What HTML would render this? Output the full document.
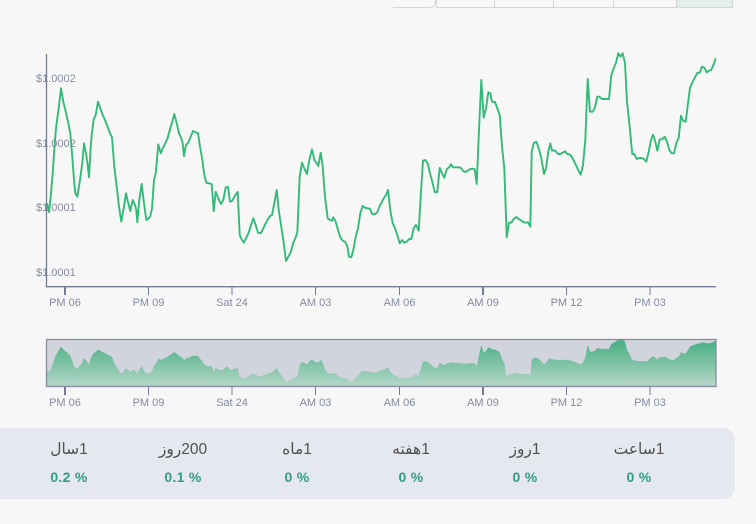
<!DOCTYPE html>
<html lang="fa">
<head>
<meta charset="utf-8">
<title>Price chart</title>
<style>
html,body{margin:0;padding:0;background:#f7f7f7;}
body{width:756px;height:524px;position:relative;overflow:hidden;font-family:"Liberation Sans","DejaVu Sans",sans-serif;}
.tab{position:absolute;top:-2px;height:9.5px;box-sizing:border-box;border:1px solid #d6d6d6;border-top:none;background:#f8f8f8;}
#chart{position:absolute;left:0;top:0;}
#stats{position:absolute;left:0;top:428px;width:735px;height:71px;background:#e5e8ee;border-radius:0 12px 12px 0;}
.stat-label{position:absolute;top:12px;width:114px;text-align:center;font-size:15.5px;line-height:20px;color:#505050;white-space:nowrap;}
.stat-value{position:absolute;top:40px;width:114px;text-align:center;font-size:14px;line-height:18px;font-weight:bold;color:#2f9e84;letter-spacing:.3px;white-space:nowrap;}
</style>
</head>
<body>
<div class="tab" style="left:393px;width:43px;border-radius:0 0 6px 0;border-left:none"></div>
<div class="tab" style="left:436px;width:59px;"></div>
<div class="tab" style="left:494px;width:60px;"></div>
<div class="tab" style="left:553px;width:61px;"></div>
<div class="tab" style="left:613px;width:64px;"></div>
<div class="tab" style="left:676px;width:57px;background:#e3efeb;border-radius:0 0 0 4px"></div>

<svg id="chart" width="756" height="524" viewBox="0 0 756 524" xmlns="http://www.w3.org/2000/svg">
<defs>
<linearGradient id="navFill" x1="0" y1="0" x2="0" y2="1">
<stop offset="0" stop-color="#45ae80"/>
<stop offset="1" stop-color="#b6d6c9"/>
</linearGradient>
</defs>
</svg>

<div id="stats">
<div class="stat-label" dir="rtl" style="left:12px">1سال</div>
<div class="stat-value" style="left:12px">0.2 %</div>
<div class="stat-label" dir="rtl" style="left:126px">200روز</div>
<div class="stat-value" style="left:126px">0.1 %</div>
<div class="stat-label" dir="rtl" style="left:240px">1ماه</div>
<div class="stat-value" style="left:240px">0 %</div>
<div class="stat-label" dir="rtl" style="left:354px">1هفته</div>
<div class="stat-value" style="left:354px">0 %</div>
<div class="stat-label" dir="rtl" style="left:468px">1روز</div>
<div class="stat-value" style="left:468px">0 %</div>
<div class="stat-label" dir="rtl" style="left:582px">1ساعت</div>
<div class="stat-value" style="left:582px">0 %</div>
</div>

<script>
// Sample time (steps of about 2.15 minutes from chart start)
const sampleSteps = [1,3,4.7,6.7,8.3,10,12.7,15,17.3,19.7,22,24.3,26,28,29.3,31.3,34,36.3,38,40,41.7,43,44.7,45.7,47.7,49.7,52,54.3,56.7,59,61.3,63.7,66,68.3,70.7,73,75.3,77.7,80,82.3,84.3,86.7,89,90.3,91.3,93.3,95.7,98,100.3,102.7,104.3,106,108,109.7,112.3,114.7,116.7,119.3,121.7,124,126.3,128.3,130.7,133,135.3,136.7,138,140,142.3,144.7,147,149.7,152,154,156.3,158,160.3,163,165.7,167.7,169.7,172.3,175,177.3,179.7,182,184,186.3,188.7,191.7,193.7,195.7,197.7,200,202.7,205,207.3,209.7,212,214.7,217.3,219.7,222,224,226,228.3,230.7,232.7,235,237.3,240,242.3,244.7,247.3,249.3,251.3,253.7,256,258.3,261,263.3,266,268.3,270.7,272.3,274.7,276.7,279,281.7,284,286,287.3,289.7,292,294.3,296.7,299,301.3,303,305.3,307.3,309.7,312,314.3,316.7,319,321.7,324,326.3,328.7,331,333.7,337.7,340,342,344.3,346.7,349,351.3,353.7,356,358.3,360.7,363,365.3,367.7,370,372.7,374.7,377,379.3,381.7,384,386.3,388.7,391.3,393.7,396,398.3,400.7,403,405,407.3,410,412.3,414.7,417,419.3,421.7,424.3,426.7,428.7,430.7,433,435.3,437.7,440,442.3,444.3,446,449,451.3,453.7,456,458.3,460.7,463,465.3,467.7,470.3,472.7,475,477.3,479.7,482,484.3,485.7,487.7,490.3,492.7,495,498,500,502.3,504.3,506,508.7,512,514.3,516.7,519,521.3,523.7,526,528.3,530.7,533,534.7,537,539.3,541.7,544,546.7,548.7,551.3,553.3,556,563,565.3,567.7,570,572.3,574.7,576.7,579,581,583.3,586.3,588.3,590.7,593.3,595.7,598,600.3,602.7,605,607,609.3,611.3,613.7,616.3,618.7,621,623.3,625.7,628,630.3,632.7,635,637.3,639.7,642,644,646.7,649,651.3,653.7,656,658.3,660.7,663,665.3,667.7,669.7];
// Price above $1, in millionths of a dollar
const priceMicro = [120.7,112,127.3,150.7,174,195.7,215.7,235.7,222.3,212.3,202.3,190.7,170.7,144,130.7,127.3,144,160.7,180.7,170.7,159,146.7,177.3,189,204.7,209,222.3,215.7,209,204,198,191.3,186.7,157.3,137.3,117.3,102.3,115.7,130.7,120.7,113,124,119,114,101.7,124,140,120.7,104,105.7,108,115.7,144,150.7,179.7,170.7,175.7,180.7,186.3,194.7,202.3,210,200.7,190.7,185.7,180.7,168,179,181.3,187.3,193,191.7,191,177.3,164.7,150.7,141.3,140.7,140,112.7,132.3,125.7,120,124,136.7,137,122.3,123.3,128,132,89,84.7,81.3,85.7,91.3,99,105.7,99,91.3,90.7,95.7,100.7,104.7,108,109,120.7,134,114,99,84,63,67.3,71.7,81.3,85.7,91.3,147.3,161.3,155.7,150,164,174.7,164,160.7,158,171.3,157.3,127.3,105.7,104,103.3,106.7,102.3,94,86.7,83.3,82.3,78,67.3,66.7,74,87.3,95.7,110.7,118,116.3,115.7,115.3,109.7,110,111.3,118,125.7,129,134,114,100.7,95.7,89,80.7,84,81.3,82.3,85,85,95.7,99,93.3,127.3,163.3,164,160.7,150.7,142.3,132,132,156,150.7,146.3,154.7,156.7,159.7,156.7,156.7,156.7,156.3,153,152,153.3,155,155.3,154.7,140,194,244,206.3,215.7,231.7,230.7,222.3,222,215.7,209,177.3,155.7,86.7,101.3,101.3,105,107,105,103.7,102,101.3,101.7,97.3,172.3,180.7,182.3,175.7,167.3,150,155.7,172.3,180.7,173.3,173.7,170,170,171.3,172.7,170,169.7,166.7,162.3,157.3,152.3,149.3,159,184,245,212.3,212.3,215.7,227.3,227.3,225,225,249,255.7,261.3,270.7,267.3,270.7,260.7,222.3,200.7,170,170,165,166,166,165,162.3,172.3,184,189.3,182.3,173.3,184.7,184.7,187.3,182.3,174,170.7,170.7,180.7,186.3,208.3,203,202.3,220.7,236.3,242.3,246.7,251,251.3,257.3,256.3,251.7,253.3,254,259.7,265.7];
// Axis ticks
const priceTicks = [52,117,181,246];
const timeTicks = [19,102.5,186,269.5,353.5,437,520.5,604];
const timeLabels = ["PM 06","PM 09","Sat 24","AM 03","AM 06","AM 09","PM 12","PM 03"];

const NS = "http://www.w3.org/2000/svg";
const svg = document.getElementById("chart");

function linear(d0, d1, r0, r1) {
  return function (v) { return r0 + (v - d0) * (r1 - r0) / (d1 - d0); };
}
const xScale = linear(0, 670, 46, 716);
const yScale = linear(38, 270, 286, 54);
const navY = linear(41, 271, 386.5, 339.5);

function make(tag, attrs, parent) {
  const el = document.createElementNS(NS, tag);
  for (const k in attrs) el.setAttribute(k, attrs[k]);
  (parent || svg).appendChild(el);
  return el;
}
function formatPrice(v) {
  return "$" + (1 + v / 1e6).toFixed(4);
}
function linePath(yFn) {
  return sampleSteps.map(function (s, i) {
    return (i ? "L" : "M") + xScale(s).toFixed(2) + " " + yFn(priceMicro[i]).toFixed(2);
  }).join("");
}
const axisColor = "#747c95";
const labelColor = "#858aa1";
const labelFont = '"Liberation Sans",sans-serif';

// Y tick labels (drawn first, the axis line crosses them)
priceTicks.forEach(function (v) {
  const t = make("text", { x: 36, y: yScale(v) + 4, "font-size": 11, "font-family": labelFont, fill: labelColor });
  
  
  t.textContent = formatPrice(v);
});

// Main axes
const yAxis = make("line", { x1: 46.5, y1: yScale(270), x2: 46.5, y2: 287, stroke: axisColor, "stroke-width": 1.3 });


const xAxis = make("line", { x1: 46, y1: 286.7, x2: 716, y2: 286.7, stroke: axisColor, "stroke-width": 1.3 });



// Navigator background
const navBg = make("rect", { x: 46.5, y: 339.5, width: 669.5, height: 47, fill: "#d2d4dd" });



// Navigator area
const lastStep = sampleSteps[sampleSteps.length - 1];
const navArea = make("path", {
  d: linePath(navY) + "L" + xScale(lastStep).toFixed(2) + " " + navY(41) + "L" + xScale(sampleSteps[0]).toFixed(2) + " " + navY(41) + "Z",
  fill: "url(#navFill)", stroke: "none"
});



// Navigator frame
const navFrame = make("rect", { x: 46.5, y: 339.5, width: 669.5, height: 47, fill: "none", stroke: "#858d9e", "stroke-width": 1.3 });



// X ticks and labels for both axes
[{ base: 287, text: 306 }, { base: 387, text: 406 }].forEach(function (axis) {
  timeTicks.forEach(function (s, i) {
    const x = xScale(s);
    const tick = make("line", { x1: x, y1: axis.base, x2: x, y2: axis.base + 8, stroke: axisColor, "stroke-width": i % 5 === 0 ? 2 : 1 });
    
    
    const t = make("text", { x: x, y: axis.text, "font-size": 11, "font-family": labelFont, fill: labelColor, "text-anchor": "middle" });
    
    
    t.textContent = timeLabels[i];
  });
});

// Main price line
const priceLine = make("path", { d: linePath(yScale), fill: "none", stroke: "#33ba78", "stroke-width": 1.9, "stroke-linejoin": "round" });


</script>
</body>
</html>
